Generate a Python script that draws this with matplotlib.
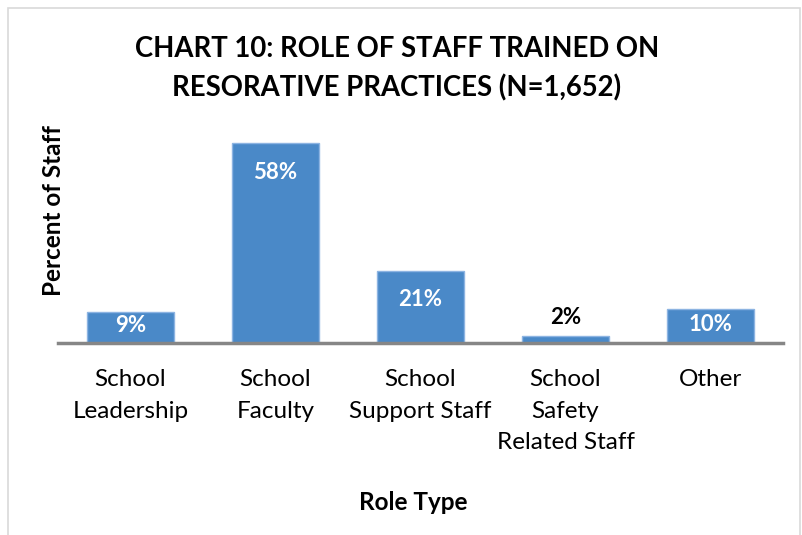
import matplotlib.pyplot as plt
from matplotlib.patches import Rectangle

plt.rcParams['font.family'] = ['Lato', 'DejaVu Sans']

# data
roles = ['School\nLeadership', 'School\nFaculty', 'School\nSupport Staff',
         'School\nSafety\nRelated Staff', 'Other']
pct = [9, 58, 21, 2, 10]

title = 'CHART 10: ROLE OF STAFF TRAINED ON\nRESORATIVE PRACTICES (N=1,652)'

bar_color = '#4A89C8'
edge_color = '#8DB4E2'

fig = plt.figure(figsize=(8.02, 5.35), dpi=100)
ax = fig.add_axes([0.0723, 0.3589, 0.904, 0.451])

x = range(len(pct))
bars = ax.bar(x, pct, width=0.6, color=bar_color, edgecolor=edge_color, linewidth=1)

ax.set_xlim(-0.5, 4.5)
ax.set_ylim(0, 70)
ax.set_yticks([])
for s in ['top', 'right', 'left']:
    ax.spines[s].set_visible(False)
ax.spines['bottom'].set_color('#868686')
ax.spines['bottom'].set_linewidth(2.5)
ax.set_xticks(list(x))
ax.set_xticklabels(roles, fontsize=17.5, linespacing=1.6)
ax.tick_params(axis='x', length=0, pad=19)

# data labels
for b, v in zip(bars, pct):
    cx = b.get_x() + b.get_width() / 2
    if v < 5:
        ax.text(cx, v + 5.5, f'{v}%', ha='center', va='center',
                fontsize=16, fontweight='bold', color='black')
    elif v > 17:
        ax.text(cx, v - 8.5, f'{v}%', ha='center', va='center',
                fontsize=16, fontweight='bold', color='white')
    else:
        ax.text(cx, v / 2 + 0.5, f'{v}%', ha='center', va='center',
                fontsize=16, fontweight='bold', color='white')

fig.text(0.495, 0.871, title, ha='center', va='center', fontsize=19.8,
         fontweight='bold', linespacing=1.55)
fig.text(0.067, 0.607, 'Percent of Staff', rotation=90, ha='center', va='center',
         fontsize=17.5, fontweight='bold')
fig.text(0.515, 0.06, 'Role Type', ha='center', va='center',
         fontsize=17.5, fontweight='bold')

# chart border
fig.patches.append(Rectangle((0.010, -0.05), 0.988, 1.035, transform=fig.transFigure,
                             fill=False, edgecolor='#D9D9D9', linewidth=1.2))

fig.savefig('out.png', dpi=100)
